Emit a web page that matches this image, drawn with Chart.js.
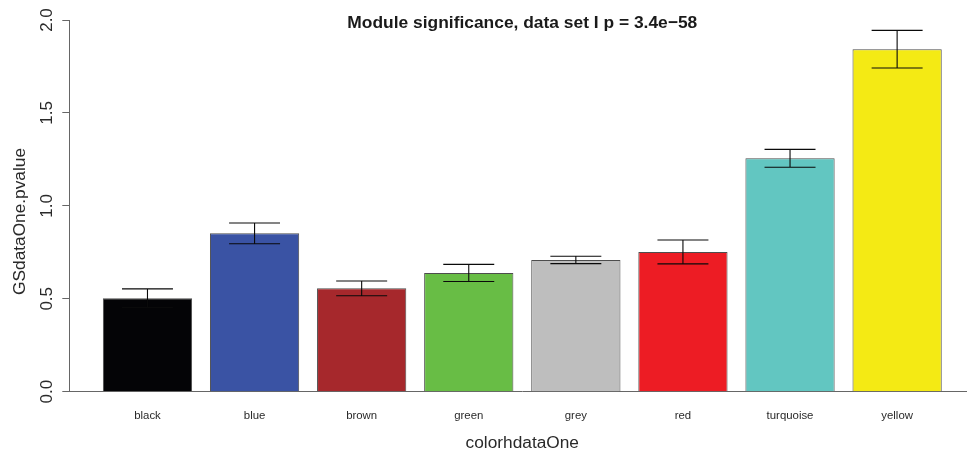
<!DOCTYPE html>
<html>
<head>
<meta charset="utf-8">
<script src="https://cdn.jsdelivr.net/npm/chart.js@4"></script>
<style>
  html, body { margin: 0; padding: 0; background: #fff; overflow: hidden; }
  #wrap { width: 967px; height: 453px; overflow: hidden; }
  canvas { display: block; }
</style>
</head>
<body>
<div id="wrap"><canvas id="c" width="990" height="453"></canvas></div>
<script>
const categories = ['black', 'blue', 'brown', 'green', 'grey', 'red', 'turquoise', 'yellow'];
const values = [0.503, 0.852, 0.556, 0.639, 0.709, 0.752, 1.256, 1.843];
const errors = [0.050, 0.056, 0.040, 0.046, 0.020, 0.064, 0.048, 0.101];
const barColors = ['#040406', '#3a53a4', '#a6282c', '#68bd45', '#bebebe', '#ed1c24', '#62c6c1', '#f4ea14'];
const yTickValues = [0, 0.5, 1, 1.5, 2];
const yTickLabels = ['0.0', '0.5', '1.0', '1.5', '2.0'];
const mainTitle = 'Module significance, data set I p = 3.4e\u221258';
const xTitle = 'colorhdataOne';
const yTitle = 'GSdataOne.pvalue';

const FONT = "'Liberation Sans', Arial, Helvetica, sans-serif";
const AXIS_COLOR = '#666666';
const TEXT_COLOR = '#2a2a2a';

const errorBarPlugin = {
  id: 'errorBars',
  afterDatasetsDraw(chart) {
    const xs = chart.scales.x, ys = chart.scales.y, ctx = chart.ctx;
    ctx.save();
    ctx.strokeStyle = '#0a0a0a';
    ctx.lineWidth = 1.1;
    values.forEach((v, i) => {
      const x = xs.getPixelForValue(i);
      const half = xs.getPixelForValue(i + 0.238) - x;
      const yt = ys.getPixelForValue(v + errors[i]);
      const yb = ys.getPixelForValue(v - errors[i]);
      ctx.beginPath();
      ctx.moveTo(x, yt); ctx.lineTo(x, yb);
      ctx.moveTo(x - half, yt); ctx.lineTo(x + half, yt);
      ctx.moveTo(x - half, yb); ctx.lineTo(x + half, yb);
      ctx.stroke();
    });
    ctx.restore();
  }
};

const titlesPlugin = {
  id: 'titles',
  afterDraw(chart) {
    const ctx = chart.ctx, ca = chart.chartArea;
    ctx.save();
    ctx.fillStyle = '#1a1a1a';
    ctx.font = 'bold 17.4px ' + FONT;
    ctx.textAlign = 'center';
    ctx.textBaseline = 'alphabetic';
    ctx.fillText(mainTitle, (ca.left + ca.right) / 2, 27.7);
    ctx.fillStyle = TEXT_COLOR;
    ctx.font = '17.3px ' + FONT;
    ctx.translate(25, (ca.top + ca.bottom) / 2 + 15.6);
    ctx.rotate(-Math.PI / 2);
    ctx.textBaseline = 'alphabetic';
    ctx.fillText(yTitle, 0, 0);
    ctx.restore();
  }
};

new Chart(document.getElementById('c'), {
  type: 'bar',
  data: {
    datasets: [{
      data: categories.map((c, i) => ({ x: i, y: values[i] })),
      backgroundColor: barColors,
      borderColor: '#4d4d4d',
      borderWidth: 1,
      barPercentage: 0.8333,
      categoryPercentage: 1
    }]
  },
  options: {
    responsive: false,
    animation: false,
    devicePixelRatio: 1,
    layout: { padding: { top: 20, right: 14.7, bottom: 0, left: 0 } },
    plugins: { legend: { display: false }, tooltip: { enabled: false }, title: { display: false } },
    scales: {
      x: {
        type: 'linear',
        offset: false,
        min: -0.73,
        max: 7.73,
        afterBuildTicks: s => { s.ticks = categories.map((c, i) => ({ value: i })); },
        afterFit: s => { s.height = 61.3; },
        grid: { display: false, drawTicks: false },
        border: { display: true, color: AXIS_COLOR, width: 1 },
        ticks: {
          autoSkip: false, maxRotation: 0, minRotation: 0, padding: 17.5,
          color: TEXT_COLOR, font: { family: FONT, size: 11.4 },
          callback: v => categories[v]
        },
        title: {
          display: true, text: xTitle, color: TEXT_COLOR,
          font: { family: FONT, size: 17.3, lineHeight: 1 },
          padding: { top: 0, bottom: 1 }
        }
      },
      y: {
        min: 0,
        max: 2,
        afterBuildTicks: s => { s.ticks = yTickValues.map(v => ({ value: v })); },
        afterFit: s => { s.width = 69.3; },
        grid: { drawOnChartArea: false, drawTicks: true, tickLength: 7, tickColor: AXIS_COLOR, color: AXIS_COLOR },
        border: { display: true, color: AXIS_COLOR, width: 1 },
        ticks: {
          minRotation: 90, maxRotation: 90, crossAlign: 'center', padding: 3.1,
          color: TEXT_COLOR, font: { family: FONT, size: 17 },
          callback: (v, idx) => yTickLabels[idx]
        }
      }
    }
  },
  plugins: [errorBarPlugin, titlesPlugin]
});
</script>
</body>
</html>
